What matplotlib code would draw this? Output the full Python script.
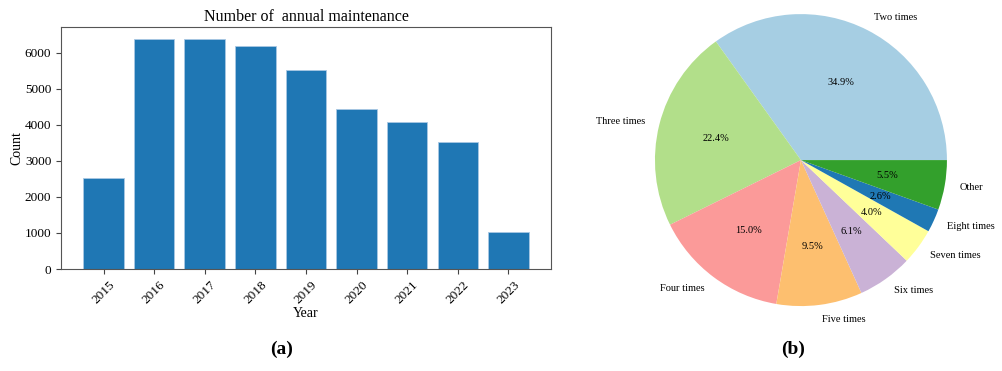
import matplotlib
matplotlib.use("Agg")
import matplotlib.pyplot as plt

plt.rcParams['font.family'] = ['Liberation Serif', 'DejaVu Serif']

years = ['2015', '2016', '2017', '2018', '2019', '2020', '2021', '2022', '2023']
counts = [2540, 6400, 6375, 6195, 5530, 4450, 4080, 3525, 1030]

pie_labels = ['Two times', 'Three times', 'Four times', 'Five times',
              'Six times', 'Seven times', 'Eight times', 'Other']
pie_shares = [34.9, 22.4, 15.0, 9.5, 6.1, 4.0, 2.6, 5.5]
pie_colors = ['#a6cee3', '#b2df8a', '#fb9a99', '#fdbf6f',
              '#cab2d6', '#ffff99', '#1f78b4', '#33a02c']

fig = plt.figure(figsize=(10.03, 3.71), dpi=100)

# (a) bar chart
ax1 = fig.add_axes([0.0608, 0.2749, 0.4885, 0.6523])
ax1.bar(years, counts, color='#1f77b4', edgecolor='#a9c8e3', linewidth=0.6)
ax1.set_title('Number of  annual maintenance', fontsize=11.5, pad=4)
ax1.set_xlabel('Year', fontsize=10, labelpad=1)
ax1.set_ylabel('Count', fontsize=10, labelpad=1)
ax1.tick_params(labelsize=9.5, color='#444444')
for s in ax1.spines.values():
    s.set_color('#555555')
plt.setp(ax1.get_xticklabels(), rotation=45)

# (b) pie chart
ax2 = fig.add_axes([0.653, 0.175, 0.2911, 0.787])
ax2.pie(pie_shares, labels=pie_labels, colors=pie_colors, autopct='%1.1f%%',
        textprops={'fontsize': 7.5})
ax2.set_xlim(-1, 1)
ax2.set_ylim(-1, 1)

fig.text(0.281, 0.045, '(a)', fontsize=14, fontweight='bold', ha='center')
fig.text(0.791, 0.045, '(b)', fontsize=14, fontweight='bold', ha='center')

plt.savefig('out.png', dpi=100)
